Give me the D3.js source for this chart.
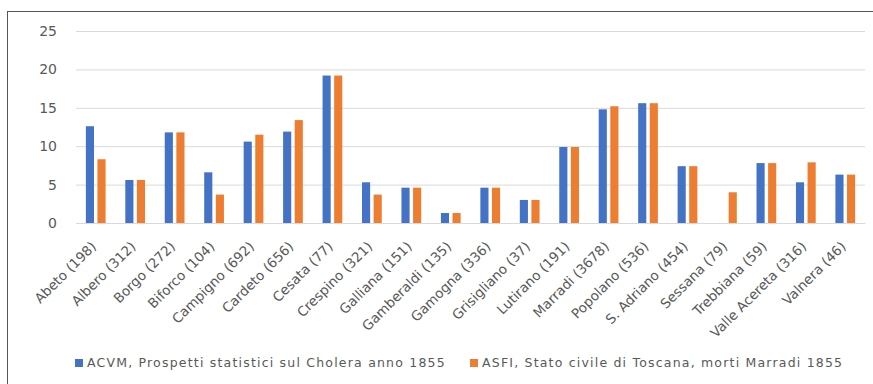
<!DOCTYPE html>
<html>
<head>
<meta charset="utf-8">
<script src="https://cdn.jsdelivr.net/npm/d3@7/dist/d3.min.js"></script>
<style>
  html, body { margin: 0; padding: 0; background: #fff; }
  svg { display: block; font-family: "DejaVu Sans", "Liberation Sans", sans-serif; }
</style>
</head>
<body>
<svg id="chart" width="873" height="384"></svg>
<script>
// Località (abitanti) and deaths per 1000 from the two sources
const categories = [
  "Abeto (198)", "Albero (312)", "Borgo (272)", "Biforco (104)", "Campigno (692)",
  "Cardeto (656)", "Cesata (77)", "Crespino (321)", "Galliana (151)", "Gamberaldi (135)",
  "Gamogna (336)", "Grisigliano (37)", "Lutirano (191)", "Marradi (3678)", "Popolano (536)",
  "S. Adriano (454)", "Sessana (79)", "Trebbiana (59)", "Valle Acereta (316)", "Valnera (46)"
];
const acvm = [12.6, 5.6, 11.8, 6.6, 10.6, 11.9, 19.2, 5.3, 4.6, 1.3, 4.6, 3.0, 9.9, 14.8, 15.6, 7.4, 0, 7.8, 5.3, 6.3];
const asfi = [8.3, 5.6, 11.8, 3.7, 11.5, 13.4, 19.2, 3.7, 4.6, 1.3, 4.6, 3.0, 9.9, 15.2, 15.6, 7.4, 4.0, 7.8, 7.9, 6.3];
const seriesNames = [
  "ACVM, Prospetti statistici sul Cholera anno 1855",
  "ASFI, Stato civile di Toscana, morti Marradi 1855"
];
const yTicks = [0, 5, 10, 15, 20, 25];
const colors = ["#4472C4", "#ED7D31"];

const svg = d3.select("#chart");

// outer frame
svg.append("rect")
  .attr("x", 7.5).attr("y", 11.5)
  .attr("width", 900).attr("height", 400)
  .attr("fill", "none").attr("stroke", "#555").attr("stroke-width", 1);

const plot = { left: 76, right: 865, top: 31, bottom: 223 };

const x0 = d3.scaleBand().domain(categories)
  .range([plot.left, plot.right]).paddingInner(0.5).paddingOuter(0.25);
const x1 = d3.scaleBand().domain([0, 1])
  .range([0, x0.bandwidth()]).paddingInner(0.3).paddingOuter(0);
const y = d3.scaleLinear().domain([0, 25]).range([plot.bottom, plot.top]);

// horizontal gridlines + y labels
const yAxis = d3.axisLeft(y).tickValues(yTicks).tickSize(-(plot.right - plot.left)).tickPadding(19);
const gy = svg.append("g").attr("transform", `translate(${plot.left},0)`).call(yAxis);
gy.select(".domain").remove();
gy.selectAll(".tick line").attr("stroke", "#d9d9d9").attr("stroke-width", 1);
gy.selectAll(".tick text").attr("fill", "#595959")
  .style("font-family", "DejaVu Sans").style("font-size", "14px");

// bars
const rows = categories.map((c, i) => ({ c, v: [acvm[i], asfi[i]] }));
const groups = svg.append("g").selectAll("g").data(rows).join("g")
  .attr("transform", d => `translate(${x0(d.c)},0)`);
groups.selectAll("rect").data(d => d.v.map((v, k) => ({ v, k }))).join("rect")
  .attr("x", d => x1(d.k))
  .attr("width", x1.bandwidth())
  .attr("y", d => y(d.v))
  .attr("height", d => y(0) - y(d.v))
  .attr("fill", d => colors[d.k]);

// category axis
const xAxis = d3.axisBottom(x0).tickSize(0).tickPadding(0);
const gx = svg.append("g").attr("transform", `translate(0,${plot.bottom})`).call(xAxis);
gx.select(".domain").attr("stroke", "#d9d9d9");
gx.selectAll(".tick text")
  .attr("fill", "#595959")
  .style("font-family", "DejaVu Sans").style("font-size", "13.5px")
  .attr("text-anchor", "end")
  .attr("x", 0).attr("y", 0)
  .attr("dy", "0.35em")
  .attr("transform", "translate(-2,21) rotate(-45)");

// legend
const legend = svg.append("g").attr("transform", "translate(75,363)");
const legendX = [0, 395];
seriesNames.forEach((name, k) => {
  const g = legend.append("g").attr("transform", `translate(${legendX[k]},0)`);
  g.append("rect").attr("x", 0).attr("y", -4).attr("width", 8).attr("height", 8).attr("fill", colors[k]);
  g.append("text").attr("x", 12).attr("y", 0).attr("dy", "0.35em")
    .attr("fill", "#595959").style("font-size", "12.5px").style("letter-spacing", "1.2px").text(name);
});
</script>
</body>
</html>
